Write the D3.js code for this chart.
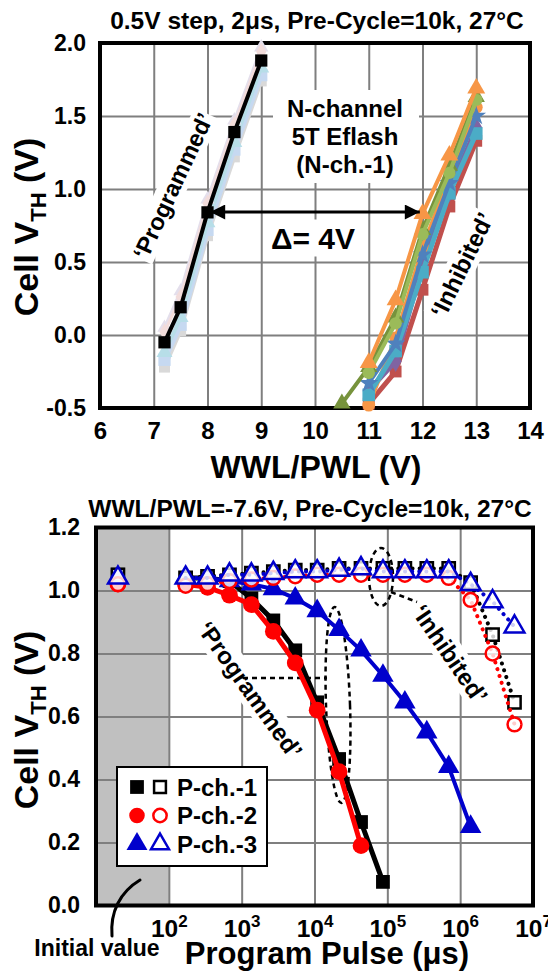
<!DOCTYPE html>
<html>
<head>
<meta charset="utf-8">
<script src="https://d3js.org/d3.v7.min.js"></script>
<style>
body{margin:0;background:#fff}
svg{display:block;font-family:"Liberation Sans",Arial,sans-serif;font-weight:bold}
</style>
</head>
<body>
<svg width="548" height="973"></svg>
<script>
// ---------- top chart data (VTH vs WWL/PWL) ----------
const progX = [7.2, 7.5, 8, 8.5, 9];
const progBlack = [-0.05, 0.19, 0.84, 1.39, 1.88];
const progPaleBlue = [-0.17, 0.07, 0.72, 1.27, 1.78];
const progPaleSky = [-0.12, 0.12, 0.77, 1.32, 1.83];
const progPaleGray = [-0.22, 0.03, 0.68, 1.22, 1.74];
const progPalePink = [0.02, 0.26, 0.9, 1.44, 1.94];
const progPaleLilac = [0.05, 0.3, 0.93, 1.47, 1.97];

const inhX = [11, 11.5, 12, 12.5, 13];
const inhRed = [-0.47, -0.25, 0.31, 0.88, 1.33];
const inhPurple = [-0.38, -0.18, 0.48, 0.98, 1.42];
const inhTeal = [-0.41, -0.11, 0.43, 0.97, 1.38];
const inhBlue = [-0.33, -0.06, 0.55, 1.04, 1.5];
const inhOrange2 = [-0.48, -0.02, 0.6, 1.08, 1.56];
const inhGreen = [-0.26, 0.08, 0.69, 1.11, 1.61];
const inhOrange = [-0.19, 0.24, 0.83, 1.23, 1.69];
const oliveX = [10.5, 11, 11.5, 12, 12.5, 13];
const inhOlive = [-0.47, -0.22, 0.12, 0.72, 1.16, 1.63];

const topXTicks = [6, 7, 8, 9, 10, 11, 12, 13, 14];
const topYTicks = [-0.5, 0, 0.5, 1, 1.5, 2];

// ---------- bottom chart data (VTH vs program pulse) ----------
const pulses = [170, 340, 680, 1360, 2720, 5440, 10880, 21760, 43520, 87040,
                174080, 348160, 696320, 1392640, 2785280, 5570560];
const initialPulse = 20;
const initialVals = [1.05, 1.02, 1.04]; // P-ch.-1, -2, -3

const progCh1 = [1.04, 1.04, 1.03, 0.975, 0.905, 0.81, 0.645, 0.465, 0.265, 0.075];
const progCh2 = [1.02, 1.01, 0.985, 0.955, 0.87, 0.77, 0.62, 0.425, 0.19];
const progCh3 = [1.04, 1.04, 1.03, 1.02, 1.005, 0.975, 0.935, 0.875, 0.81, 0.73, 0.645, 0.55, 0.44, 0.25];
const inhCh1 = [1.04, 1.045, 1.05, 1.055, 1.06, 1.065, 1.065, 1.07, 1.07, 1.07, 1.07, 1.07, 1.07, 1.025, 0.86, 0.645];
const inhCh2 = [1.015, 1.02, 1.03, 1.035, 1.04, 1.045, 1.05, 1.05, 1.05, 1.05, 1.05, 1.05, 1.04, 0.97, 0.8, 0.575];
const inhCh3 = [1.04, 1.04, 1.05, 1.05, 1.055, 1.06, 1.06, 1.065, 1.07, 1.06, 1.06, 1.06, 1.06, 1.02, 0.965, 0.885];

const botXTicks = [1e2, 1e3, 1e4, 1e5, 1e6, 1e7];
const botYTicks = [0, 0.2, 0.4, 0.6, 0.8, 1.0, 1.2];
const legendNames = ["P-ch.-1", "P-ch.-2", "P-ch.-3"];

const svg = d3.select("svg");
const GRID = "#7f7f7f";

function sym(type, size) { return d3.symbol().type(type).size(size)(); }

function boxedText(g, x, y, angle, str, size, pad) {
  const t = g.append("g").attr("transform", `translate(${x},${y}) rotate(${angle})`);
  const r = t.append("rect").attr("fill", "#fff");
  const txt = t.append("text").attr("text-anchor", "middle").attr("dy", "0.35em")
    .attr("font-size", size).text(str);
  const b = txt.node().getBBox();
  r.attr("x", b.x - pad).attr("y", b.y - pad).attr("width", b.width + 2 * pad).attr("height", b.height + 2 * pad);
  return t;
}

function yLabel(x, y) {
  const t = svg.append("text").attr("transform", `translate(${x},${y}) rotate(-90)`)
    .attr("text-anchor", "middle").attr("font-size", 34);
  t.append("tspan").text("Cell V");
  t.append("tspan").attr("font-size", 22).attr("dy", 8).text("TH");
  t.append("tspan").attr("dy", -8).text(" (V)");
}

// ================= TOP CHART =================
const xT = d3.scaleLinear().domain([6, 14]).range([100, 530]);
const yT = d3.scaleLinear().domain([-0.5, 2]).range([408, 43]);
const gT = svg.append("g");

gT.append("g").attr("transform", "translate(0,408)")
  .call(d3.axisBottom(xT).tickValues(topXTicks.slice(1, -1)).tickSize(-365).tickFormat(""))
  .call(g => g.select(".domain").remove())
  .selectAll("line").attr("stroke", GRID).attr("stroke-width", 2);
gT.append("g").attr("transform", "translate(100,0)")
  .call(d3.axisLeft(yT).tickValues(topYTicks.slice(1, -1)).tickSize(-430).tickFormat(""))
  .call(g => g.select(".domain").remove())
  .selectAll("line").attr("stroke", GRID).attr("stroke-width", 2);

// annotations with white boxes
const nch = gT.append("g");
nch.append("rect").attr("x", 273).attr("y", 90).attr("width", 146).attr("height", 93).attr("fill", "#fff");
["N-channel", "5T Eflash", "(N-ch.-1)"].forEach((s, i) => {
  nch.append("text").attr("x", 345).attr("y", 117 + i * 28).attr("text-anchor", "middle")
    .attr("font-size", 24).text(s);
});
boxedText(gT, 313, 238, 0, "Δ= 4V", 30, 2);
boxedText(gT, 173, 186, -65, "‘Programmed’", 23.5, 1);
boxedText(gT, 462, 265, -64, "‘Inhibited’", 24, 1);

// border
gT.append("rect").attr("x", 100).attr("y", 43).attr("width", 430).attr("height", 365)
  .attr("fill", "none").attr("stroke", "#000").attr("stroke-width", 4);

function topSeries(xs, ys, color, shape, size, lw) {
  const line = d3.line().x((d, i) => xT(xs[i])).y(d => yT(d));
  gT.append("path").datum(ys).attr("d", line).attr("fill", "none")
    .attr("stroke", color).attr("stroke-width", lw);
  gT.selectAll(null).data(ys).enter().append("path")
    .attr("transform", (d, i) => `translate(${xT(xs[i])},${yT(d)})`)
    .attr("d", sym(shape, size)).attr("fill", color);
}

topSeries(progX, progPaleGray, "#d9d9d9", d3.symbolSquare, 120, 4);
topSeries(progX, progPaleBlue, "#c6d9f1", d3.symbolSquare, 150, 5);
topSeries(progX, progPaleSky, "#b7dee8", d3.symbolTriangle, 110, 4);
topSeries(progX, progPaleLilac, "#e4dfec", d3.symbolTriangle, 90, 3);
topSeries(progX, progPalePink, "#f2dcdb", d3.symbolDiamond, 90, 3);
topSeries(progX, progBlack, "#000", d3.symbolSquare, 150, 4);

topSeries(inhX, inhRed, "#c0504d", d3.symbolSquare, 140, 5);
topSeries(inhX, inhPurple, "#8064a2", d3.symbolDiamond, 130, 5);
topSeries(inhX, inhOrange2, "#f79646", d3.symbolCircle, 130, 4);
topSeries(inhX, inhTeal, "#4bacc6", d3.symbolSquare, 160, 5);
topSeries(inhX, inhBlue, "#4f81bd", d3.symbolStar, 120, 4);
topSeries(oliveX, inhOlive, "#77933c", d3.symbolTriangle, 130, 4);
topSeries(inhX, inhGreen, "#9bbb59", d3.symbolCircle, 120, 4);
topSeries(inhX, inhOrange, "#f79646", d3.symbolTriangle, 140, 4);

// delta arrow
svg.append("defs").append("marker").attr("id", "ah").attr("viewBox", "0 0 10 10")
  .attr("refX", 10).attr("refY", 5).attr("markerWidth", 6).attr("markerHeight", 5)
  .attr("markerUnits", "strokeWidth").attr("orient", "auto-start-reverse")
  .append("path").attr("d", "M0,0L10,5L0,10z").attr("fill", "#000");
gT.append("line").attr("x1", xT(8.05)).attr("x2", xT(11.95)).attr("y1", 212).attr("y2", 212)
  .attr("stroke", "#000").attr("stroke-width", 3)
  .attr("marker-start", "url(#ah)").attr("marker-end", "url(#ah)");

// axes labels
gT.append("g").attr("transform", "translate(0,408)")
  .call(d3.axisBottom(xT).tickValues(topXTicks).tickSize(0).tickPadding(14).tickFormat(d => d))
  .call(g => g.select(".domain").remove())
  .selectAll("text").attr("font-size", 24).attr("font-family", null).attr("fill", "#000");
gT.append("g").attr("transform", "translate(100,0)")
  .call(d3.axisLeft(yT).tickValues(topYTicks).tickSize(0).tickPadding(14).tickFormat(d => d.toFixed(1)))
  .call(g => g.select(".domain").remove())
  .selectAll("text").attr("font-size", 23).attr("font-family", null).attr("fill", "#000");

svg.append("text").attr("x", 317).attr("y", 29).attr("text-anchor", "middle").attr("font-size", 24.5)
  .text("0.5V step, 2μs, Pre-Cycle=10k, 27°C");
svg.append("text").attr("x", 316).attr("y", 478).attr("text-anchor", "middle").attr("font-size", 32)
  .text("WWL/PWL (V)");
yLabel(38, 227);

// ================= BOTTOM CHART =================
const xB = d3.scaleLog().domain([10, 1e7]).range([96, 533]);
const yB = d3.scaleLinear().domain([0, 1.2]).range([905.5, 527.5]);
const gB = svg.append("g");

gB.append("rect").attr("x", xB(10)).attr("y", yB(1.2)).attr("width", xB(100) - xB(10))
  .attr("height", yB(0) - yB(1.2)).attr("fill", "#c0c0c0");
gB.append("g").attr("transform", "translate(0,905.5)")
  .call(d3.axisBottom(xB).tickValues(botXTicks.slice(0, -1)).tickSize(-378).tickFormat(""))
  .call(g => g.select(".domain").remove())
  .selectAll("line").attr("stroke", GRID).attr("stroke-width", 2);
gB.append("g").attr("transform", "translate(96,0)")
  .call(d3.axisLeft(yB).tickValues(botYTicks.slice(1, -1)).tickSize(-437).tickFormat(""))
  .call(g => g.select(".domain").remove())
  .selectAll("line").attr("stroke", GRID).attr("stroke-width", 2);

gB.append("rect").attr("x", 96).attr("y", 527.5).attr("width", 437).attr("height", 378)
  .attr("fill", "none").attr("stroke", "#000").attr("stroke-width", 4);

// annotations
boxedText(gB, 250, 690, 54.5, "‘Programmed’", 24, 1);
boxedText(gB, 450, 654, 55.5, "‘Inhibited’", 24, 1);
const dash = "5,4";
gB.append("ellipse").attr("transform", "translate(338,705) rotate(-2)").attr("rx", 12).attr("ry", 98)
  .attr("fill", "none").attr("stroke", "#000").attr("stroke-width", 2.5).attr("stroke-dasharray", dash);
gB.append("line").attr("x1", 243).attr("x2", 327).attr("y1", 678).attr("y2", 678)
  .attr("stroke", "#000").attr("stroke-width", 2.5).attr("stroke-dasharray", dash);
gB.append("ellipse").attr("cx", 381).attr("cy", 577).attr("rx", 12).attr("ry", 29)
  .attr("fill", "none").attr("stroke", "#000").attr("stroke-width", 2.5).attr("stroke-dasharray", dash);
gB.append("line").attr("x1", 391).attr("x2", 417).attr("y1", 592).attr("y2", 602)
  .attr("stroke", "#000").attr("stroke-width", 2.5).attr("stroke-dasharray", dash);

const SQ = d3.symbolSquare, CI = d3.symbolCircle, TR = d3.symbolTriangle;

function botSeries(vals, init, color, shape, size, lw, open) {
  const pts = [[initialPulse, init]].concat(vals.map((v, i) => [pulses[i], v]));
  const line = d3.line().x(d => xB(d[0])).y(d => yB(d[1]));
  const p = gB.append("path").datum(pts.slice(1)).attr("d", line).attr("fill", "none")
    .attr("stroke", color).attr("stroke-width", lw).attr("stroke-linecap", "round");
  if (open) p.attr("stroke-dasharray", "0.1,7");
  gB.selectAll(null).data(pts).enter().append("path")
    .attr("transform", d => `translate(${xB(d[0])},${yB(d[1])})`)
    .attr("d", sym(shape, size))
    .attr("fill", open ? "#fff" : color).attr("fill-opacity", open ? 0.8 : 1)
    .attr("stroke", open ? color : "none").attr("stroke-width", 2.5);
}

botSeries(progCh1, initialVals[0], "#000", SQ, 190, 5, false);
botSeries(progCh2, initialVals[1], "#ff0000", CI, 220, 5, false);
botSeries(progCh3, initialVals[2], "#0000cc", TR, 200, 4, false);
botSeries(inhCh1, initialVals[0], "#000", SQ, 150, 4, true);
botSeries(inhCh2, initialVals[1], "#ff0000", CI, 150, 4, true);
botSeries(inhCh3, initialVals[2], "#0000cc", TR, 170, 4, true);

// legend
const lg = gB.append("g");
lg.append("rect").attr("x", 117).attr("y", 767).attr("width", 150).attr("height", 99)
  .attr("fill", "#fff").attr("stroke", "#000").attr("stroke-width", 2);
const lgColors = ["#000", "#ff0000", "#0000cc"];
const lgShapes = [SQ, CI, TR];
legendNames.forEach((n, i) => {
  const y = 787 + i * 28.5;
  lg.append("path").attr("transform", `translate(137,${y})`).attr("d", sym(lgShapes[i], 190)).attr("fill", lgColors[i]);
  lg.append("path").attr("transform", `translate(160,${y})`).attr("d", sym(lgShapes[i], 140))
    .attr("fill", "#fff").attr("stroke", lgColors[i]).attr("stroke-width", 2.5);
  lg.append("text").attr("x", 177).attr("y", y + 8.5).attr("font-size", 24).text(n);
});

// tick labels
const xa = gB.append("g").attr("transform", "translate(0,905.5)")
  .call(d3.axisBottom(xB).tickValues(botXTicks).tickSize(0).tickFormat(""))
  .call(g => g.select(".domain").remove());
xa.selectAll(".tick").append("text").attr("y", 31).attr("text-anchor", "middle")
  .attr("fill", "#000").attr("font-size", 24.5)
  .each(function (d) {
    const t = d3.select(this);
    t.append("tspan").text("10");
    t.append("tspan").attr("font-size", 17).attr("dy", -10).text(Math.round(Math.log10(d)));
  });
gB.append("g").attr("transform", "translate(96,0)")
  .call(d3.axisLeft(yB).tickValues(botYTicks).tickSize(0).tickPadding(16).tickFormat(d => d.toFixed(1)))
  .call(g => g.select(".domain").remove())
  .selectAll("text").attr("font-size", 23).attr("font-family", null).attr("fill", "#000");

svg.append("text").attr("x", 310).attr("y", 517).attr("text-anchor", "middle").attr("font-size", 24.5)
  .text("WWL/PWL=-7.6V, Pre-Cycle=10k, 27°C");
svg.append("text").attr("x", 327).attr("y", 964).attr("text-anchor", "middle").attr("font-size", 31)
  .text("Program Pulse (μs)");
svg.append("text").attr("x", 97).attr("y", 956).attr("text-anchor", "middle").attr("font-size", 23)
  .text("Initial value");
svg.append("path").attr("d", "M112,936 C110,912 120,892 140,880").attr("fill", "none")
  .attr("stroke", "#000").attr("stroke-width", 3).attr("stroke-linecap", "round");
yLabel(38, 720);
</script>
</body>
</html>
